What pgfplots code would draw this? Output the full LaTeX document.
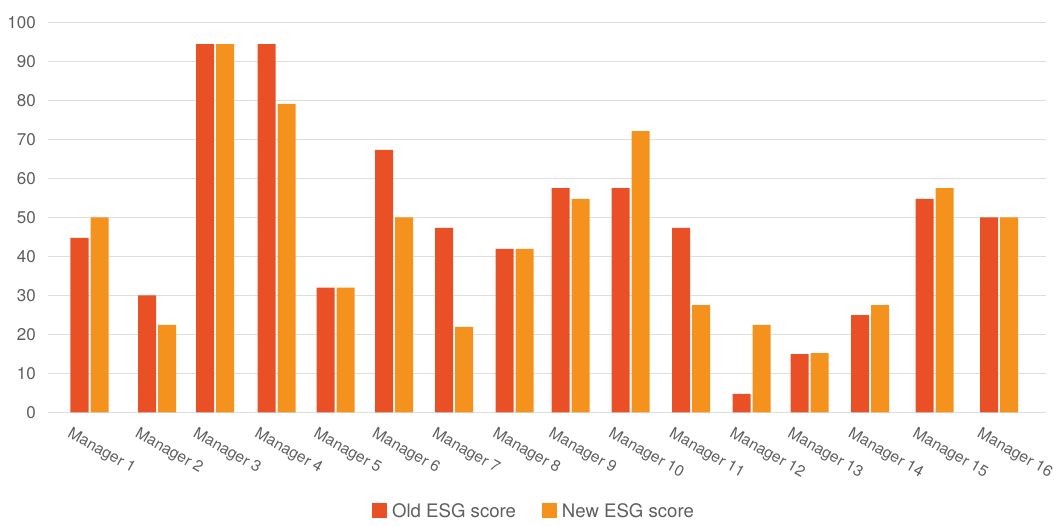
\documentclass[border=0pt]{standalone}
\usepackage{pgfplots}
\pgfplotsset{compat=1.18}
\usepackage{pgfplotstable}
\usepackage{fontspec}
\setmainfont{TeX Gyre Heros}

\definecolor{oldesg}{RGB}{234,80,38}
\definecolor{newesg}{RGB}{245,146,30}
\definecolor{gridgray}{RGB}{222,222,222}
\definecolor{labelgray}{RGB}{95,95,95}

% pos = horizontal centre of each manager's pair of bars
\pgfplotstableread{
pos    old   new
89.5   44.7  50.0
157.0  30.0  22.4
215.0  94.4  94.4
276.5  94.4  79.1
335.5  32.0  32.0
394.0  67.3  50.0
454.0  47.3  21.9
514.5  41.9  41.9
570.5  57.5  54.7
630.5  57.5  72.1
691.0  47.3  27.5
751.5   4.7  22.4
809.5  14.9  15.2
870.0  24.9  27.5
934.5  54.7  57.5
999.0  50.0  50.0
}\scores

\begin{document}
\begin{tikzpicture}
\path[use as bounding box] (0,0) rectangle (1054pt,525pt);
\begin{axis}[
  at={(48pt,112.7pt)}, anchor=south west,
  scale only axis, width=998pt, height=390pt,
  xmin=48, xmax=1046, ymin=0, ymax=100,
  axis line style={draw=none},
  ytick={0,10,...,100},
  ymajorgrids,
  major grid style={gridgray, line width=1.3pt},
  xtick=data,
  xticklabels={Manager 1,Manager 2,Manager 3,Manager 4,Manager 5,Manager 6,Manager 7,Manager 8,Manager 9,Manager 10,Manager 11,Manager 12,Manager 13,Manager 14,Manager 15,Manager 16},
  major tick length=0pt,
  /pgf/number format/assume math mode=true,
  tick label style={text=labelgray},
  yticklabel style={font=\fontsize{17}{20}\selectfont, anchor=east, inner sep=0pt, xshift=-12pt},
  xticklabel style={font=\fontsize{15.6}{18}\selectfont, xshift=-17pt, yshift=-14pt, rotate=-29.5, anchor=north west, inner sep=0pt},
  ybar, bar width=18pt,
  legend columns=2,
  legend style={draw=none, at={(0.487,-0.253)}, anchor=center,
    font=\fontsize{18.6}{21}\selectfont, text=labelgray,
    /tikz/every even column/.append style={column sep=24pt}},
  legend image code/.code={\fill[#1] (0pt,-7pt) rectangle (15pt,8pt); \path (18pt,0pt);},
]
\addplot[fill=oldesg, draw=none, bar shift=-10pt] table[x=pos, y=old]{\scores};
\addplot[fill=newesg, draw=none, bar shift=10pt] table[x=pos, y=new]{\scores};
\legend{Old ESG score, New ESG score}
\end{axis}
\end{tikzpicture}
\end{document}
